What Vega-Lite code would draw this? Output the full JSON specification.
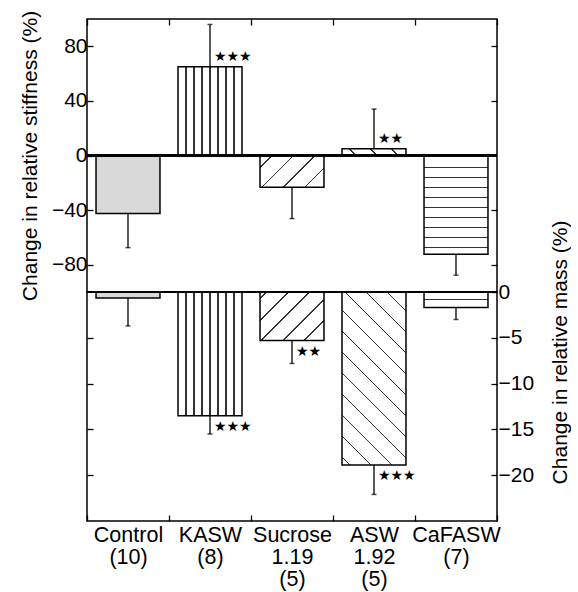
{
  "$schema": "https://vega.github.io/schema/vega-lite/v6.json",
  "background": "white",
  "padding": {"left": 18, "top": 9, "right": 0, "bottom": 0},
  "spacing": 0,
  "bounds": "flush",
  "config": {
    "view": {"stroke": "black", "strokeWidth": 1.5},
    "font": "Liberation Sans",
    "axis": {
      "labelFont": "Liberation Sans", "titleFont": "Liberation Sans",
      "labelColor": "black", "titleColor": "black", "tickColor": "black",
      "titleFontWeight": "normal", "domain": false, "grid": false,
      "tickWidth": 1.3, "labelFontSize": 21, "titleFontSize": 21
    }
  },
  "data": {"values": [
    {"group": "Control|(10)", "stiffness": -42.5, "stiff_end": -67.5, "stiff_sig": null, "mass": -0.65, "mass_end": -3.7, "mass_sig": null},
    {"group": "KASW|(8)", "stiffness": 65, "stiff_end": 96, "stiff_sig": "★★★", "mass": -13.5, "mass_end": -15.5, "mass_sig": "★★★"},
    {"group": "Sucrose|1.19|(5)", "stiffness": -23.3, "stiff_end": -46.2, "stiff_sig": null, "mass": -5.3, "mass_end": -7.8, "mass_sig": "★★"},
    {"group": "ASW|1.92|(5)", "stiffness": 5, "stiff_end": 34, "stiff_sig": "★★", "mass": -18.9, "mass_end": -22.1, "mass_sig": "★★★"},
    {"group": "CaFASW|(7)", "stiffness": -72.4, "stiff_end": -87.7, "stiff_sig": null, "mass": -1.7, "mass_end": -3.0, "mass_sig": null}
  ]},
  "vconcat": [
    {
      "width": 410, "height": 273,
      "resolve": {"axis": {"y": "independent"}},
      "layer": [
        {
          "mark": {"type": "bar", "width": {"band": 0.78}, "stroke": "black", "strokeWidth": 1.5},
          "encoding": {
            "x": {"field": "group", "type": "nominal", "sort": null,
                  "scale": {"paddingInner": 0, "paddingOuter": 0},
                  "axis": {"orient": "top", "labels": false, "tickBand": "extent", "tickSize": -6, "title": null}},
            "y": {"field": "stiffness", "type": "quantitative", "scale": {"domain": [-100, 100], "nice": false},
                  "axis": {"orient": "left", "values": [80, 40, 0, -40, -80], "tickSize": -6, "labelPadding": 6,
                           "title": "Change in relative stiffness (%)", "titlePadding": 11}},
            "fill": {
              "condition": [
                {"test": "datum.group === 'KASW|(8)'", "value": {"gradient": "linear", "x1": 0, "y1": 0, "x2": 1, "y2": 0, "stops": [
                  {"offset": 0.1148, "color": "white"}, {"offset": 0.1148, "color": "#333"}, {"offset": 0.1352, "color": "#333"}, {"offset": 0.1352, "color": "white"},
                  {"offset": 0.2398, "color": "white"}, {"offset": 0.2398, "color": "#333"}, {"offset": 0.2602, "color": "#333"}, {"offset": 0.2602, "color": "white"},
                  {"offset": 0.3648, "color": "white"}, {"offset": 0.3648, "color": "#333"}, {"offset": 0.3852, "color": "#333"}, {"offset": 0.3852, "color": "white"},
                  {"offset": 0.4898, "color": "white"}, {"offset": 0.4898, "color": "#333"}, {"offset": 0.5102, "color": "#333"}, {"offset": 0.5102, "color": "white"},
                  {"offset": 0.6148, "color": "white"}, {"offset": 0.6148, "color": "#333"}, {"offset": 0.6352, "color": "#333"}, {"offset": 0.6352, "color": "white"},
                  {"offset": 0.7398, "color": "white"}, {"offset": 0.7398, "color": "#333"}, {"offset": 0.7602, "color": "#333"}, {"offset": 0.7602, "color": "white"},
                  {"offset": 0.8648, "color": "white"}, {"offset": 0.8648, "color": "#333"}, {"offset": 0.8852, "color": "#333"}, {"offset": 0.8852, "color": "white"}
                ]}},
                {"test": "datum.group === 'Sucrose|1.19|(5)'", "value": {"gradient": "linear", "x1": 0, "y1": 0, "x2": 1.2005, "y2": 0.5965, "stops": [
                  {"offset": 0.1157, "color": "white"}, {"offset": 0.1157, "color": "#333"}, {"offset": 0.1349, "color": "#333"}, {"offset": 0.1349, "color": "white"},
                  {"offset": 0.3401, "color": "white"}, {"offset": 0.3401, "color": "#333"}, {"offset": 0.3593, "color": "#333"}, {"offset": 0.3593, "color": "white"},
                  {"offset": 0.5645, "color": "white"}, {"offset": 0.5645, "color": "#333"}, {"offset": 0.5837, "color": "#333"}, {"offset": 0.5837, "color": "white"},
                  {"offset": 0.7889, "color": "white"}, {"offset": 0.7889, "color": "#333"}, {"offset": 0.8081, "color": "#333"}, {"offset": 0.8081, "color": "white"}
                ]}},
                {"test": "datum.group === 'ASW|1.92|(5)'", "value": {"gradient": "linear", "x1": 0, "y1": 1, "x2": 1.0939, "y2": 0.8838, "stops": [
                  {"offset": 0.1847, "color": "white"}, {"offset": 0.1847, "color": "#333"}, {"offset": 0.2107, "color": "#333"}, {"offset": 0.2107, "color": "white"},
                  {"offset": 0.4814, "color": "white"}, {"offset": 0.4814, "color": "#333"}, {"offset": 0.5074, "color": "#333"}, {"offset": 0.5074, "color": "white"},
                  {"offset": 0.7780, "color": "white"}, {"offset": 0.7780, "color": "#333"}, {"offset": 0.8040, "color": "#333"}, {"offset": 0.8040, "color": "white"}
                ]}},
                {"test": "datum.group === 'CaFASW|(7)'", "value": {"gradient": "linear", "x1": 0, "y1": 0, "x2": 0, "y2": 1, "stops": [
                  {"offset": 0.1149, "color": "white"}, {"offset": 0.1149, "color": "#333"}, {"offset": 0.1281, "color": "#333"}, {"offset": 0.1281, "color": "white"},
                  {"offset": 0.2161, "color": "white"}, {"offset": 0.2161, "color": "#333"}, {"offset": 0.2293, "color": "#333"}, {"offset": 0.2293, "color": "white"},
                  {"offset": 0.3173, "color": "white"}, {"offset": 0.3173, "color": "#333"}, {"offset": 0.3305, "color": "#333"}, {"offset": 0.3305, "color": "white"},
                  {"offset": 0.4185, "color": "white"}, {"offset": 0.4185, "color": "#333"}, {"offset": 0.4317, "color": "#333"}, {"offset": 0.4317, "color": "white"},
                  {"offset": 0.5197, "color": "white"}, {"offset": 0.5197, "color": "#333"}, {"offset": 0.5329, "color": "#333"}, {"offset": 0.5329, "color": "white"},
                  {"offset": 0.6209, "color": "white"}, {"offset": 0.6209, "color": "#333"}, {"offset": 0.6341, "color": "#333"}, {"offset": 0.6341, "color": "white"},
                  {"offset": 0.7221, "color": "white"}, {"offset": 0.7221, "color": "#333"}, {"offset": 0.7353, "color": "#333"}, {"offset": 0.7353, "color": "white"},
                  {"offset": 0.8234, "color": "white"}, {"offset": 0.8234, "color": "#333"}, {"offset": 0.8366, "color": "#333"}, {"offset": 0.8366, "color": "white"},
                  {"offset": 0.9246, "color": "white"}, {"offset": 0.9246, "color": "#333"}, {"offset": 0.9378, "color": "#333"}, {"offset": 0.9378, "color": "white"}
                ]}}
              ],
              "value": "#d9d9d9"
            }
          }
        },
        {
          "mark": {"type": "rule", "strokeWidth": 2, "color": "black"},
          "encoding": {"y": {"datum": 0, "type": "quantitative", "axis": null}}
        },
        {
          "mark": {"type": "rule", "strokeWidth": 1.3, "color": "black"},
          "encoding": {
            "x": {"field": "group", "type": "nominal", "sort": null},
            "y": {"field": "stiffness", "type": "quantitative",
                  "axis": {"orient": "right", "values": [80, 40, -40, -80], "labels": false, "tickSize": -6, "title": null}},
            "y2": {"field": "stiff_end"}
          }
        },
        {
          "mark": {"type": "tick", "orient": "horizontal", "size": 5, "thickness": 1.5, "color": "black"},
          "encoding": {
            "x": {"field": "group", "type": "nominal", "sort": null},
            "y": {"field": "stiff_end", "type": "quantitative", "axis": null}
          }
        },
        {
          "transform": [{"filter": "datum.stiff_sig != null"}],
          "mark": {"type": "text", "align": "left", "baseline": "middle", "dx": 4, "dy": -10, "font": "DejaVu Sans", "fontSize": 14, "color": "black"},
          "encoding": {
            "x": {"field": "group", "type": "nominal", "sort": null},
            "y": {"field": "stiffness", "type": "quantitative", "axis": null},
            "text": {"field": "stiff_sig"}
          }
        }
      ]
    },
    {
      "width": 410, "height": 229,
      "resolve": {"axis": {"y": "independent"}},
      "layer": [
        {
          "mark": {"type": "bar", "width": {"band": 0.78}, "stroke": "black", "strokeWidth": 1.5},
          "encoding": {
            "x": {"field": "group", "type": "nominal", "sort": null,
                  "scale": {"paddingInner": 0, "paddingOuter": 0},
                  "axis": {"orient": "bottom", "labelExpr": "split(datum.label, '|')", "labelAngle": 0, "labelOverlap": false,
                           "tickBand": "extent", "tickSize": -6, "labelPadding": 9, "labelFontSize": 21.5, "labelLineHeight": 22, "title": null}},
            "y": {"field": "mass", "type": "quantitative", "scale": {"domain": [-25, 0], "nice": false},
                  "axis": {"orient": "right", "values": [0, -5, -10, -15, -20], "tickSize": -6, "labelPadding": 7,
                           "title": "Change in relative mass (%)", "titleAngle": 270, "titleX": 63, "titleY": 60,
                           "titleAlign": "center", "titleBaseline": "middle"}},
            "fill": {
              "condition": [
                {"test": "datum.group === 'KASW|(8)'", "value": {"gradient": "linear", "x1": 0, "y1": 0, "x2": 1, "y2": 0, "stops": [
                  {"offset": 0.1148, "color": "white"}, {"offset": 0.1148, "color": "#333"}, {"offset": 0.1352, "color": "#333"}, {"offset": 0.1352, "color": "white"},
                  {"offset": 0.2398, "color": "white"}, {"offset": 0.2398, "color": "#333"}, {"offset": 0.2602, "color": "#333"}, {"offset": 0.2602, "color": "white"},
                  {"offset": 0.3648, "color": "white"}, {"offset": 0.3648, "color": "#333"}, {"offset": 0.3852, "color": "#333"}, {"offset": 0.3852, "color": "white"},
                  {"offset": 0.4898, "color": "white"}, {"offset": 0.4898, "color": "#333"}, {"offset": 0.5102, "color": "#333"}, {"offset": 0.5102, "color": "white"},
                  {"offset": 0.6148, "color": "white"}, {"offset": 0.6148, "color": "#333"}, {"offset": 0.6352, "color": "#333"}, {"offset": 0.6352, "color": "white"},
                  {"offset": 0.7398, "color": "white"}, {"offset": 0.7398, "color": "#333"}, {"offset": 0.7602, "color": "#333"}, {"offset": 0.7602, "color": "white"},
                  {"offset": 0.8648, "color": "white"}, {"offset": 0.8648, "color": "#333"}, {"offset": 0.8852, "color": "#333"}, {"offset": 0.8852, "color": "white"}
                ]}},
                {"test": "datum.group === 'Sucrose|1.19|(5)'", "value": {"gradient": "linear", "x1": 0, "y1": 0, "x2": 1.1166, "y2": 0.8462, "stops": [
                  {"offset": 0.0514, "color": "white"}, {"offset": 0.0514, "color": "#333"}, {"offset": 0.0678, "color": "#333"}, {"offset": 0.0678, "color": "white"},
                  {"offset": 0.2425, "color": "white"}, {"offset": 0.2425, "color": "#333"}, {"offset": 0.2589, "color": "#333"}, {"offset": 0.2589, "color": "white"},
                  {"offset": 0.4336, "color": "white"}, {"offset": 0.4336, "color": "#333"}, {"offset": 0.4500, "color": "#333"}, {"offset": 0.4500, "color": "white"},
                  {"offset": 0.6247, "color": "white"}, {"offset": 0.6247, "color": "#333"}, {"offset": 0.6411, "color": "#333"}, {"offset": 0.6411, "color": "white"},
                  {"offset": 0.8158, "color": "white"}, {"offset": 0.8158, "color": "#333"}, {"offset": 0.8322, "color": "#333"}, {"offset": 0.8322, "color": "white"}
                ]}},
                {"test": "datum.group === 'ASW|1.92|(5)'", "value": {"gradient": "linear", "x1": 0, "y1": 1, "x2": 0.4455, "y2": -0.2050, "stops": [
                  {"offset": 0.0303, "color": "white"}, {"offset": 0.0303, "color": "#333"}, {"offset": 0.0381, "color": "#333"}, {"offset": 0.0381, "color": "white"},
                  {"offset": 0.1188, "color": "white"}, {"offset": 0.1188, "color": "#333"}, {"offset": 0.1266, "color": "#333"}, {"offset": 0.1266, "color": "white"},
                  {"offset": 0.2074, "color": "white"}, {"offset": 0.2074, "color": "#333"}, {"offset": 0.2152, "color": "#333"}, {"offset": 0.2152, "color": "white"},
                  {"offset": 0.2960, "color": "white"}, {"offset": 0.2960, "color": "#333"}, {"offset": 0.3038, "color": "#333"}, {"offset": 0.3038, "color": "white"},
                  {"offset": 0.3845, "color": "white"}, {"offset": 0.3845, "color": "#333"}, {"offset": 0.3923, "color": "#333"}, {"offset": 0.3923, "color": "white"},
                  {"offset": 0.4731, "color": "white"}, {"offset": 0.4731, "color": "#333"}, {"offset": 0.4809, "color": "#333"}, {"offset": 0.4809, "color": "white"},
                  {"offset": 0.5617, "color": "white"}, {"offset": 0.5617, "color": "#333"}, {"offset": 0.5695, "color": "#333"}, {"offset": 0.5695, "color": "white"},
                  {"offset": 0.6502, "color": "white"}, {"offset": 0.6502, "color": "#333"}, {"offset": 0.6580, "color": "#333"}, {"offset": 0.6580, "color": "white"},
                  {"offset": 0.7388, "color": "white"}, {"offset": 0.7388, "color": "#333"}, {"offset": 0.7466, "color": "#333"}, {"offset": 0.7466, "color": "white"},
                  {"offset": 0.8274, "color": "white"}, {"offset": 0.8274, "color": "#333"}, {"offset": 0.8352, "color": "#333"}, {"offset": 0.8352, "color": "white"},
                  {"offset": 0.9160, "color": "white"}, {"offset": 0.9160, "color": "#333"}, {"offset": 0.9238, "color": "#333"}, {"offset": 0.9238, "color": "white"}
                ]}},
                {"test": "datum.group === 'CaFASW|(7)'", "value": {"gradient": "linear", "x1": 0, "y1": 0, "x2": 0, "y2": 1, "stops": [
                  {"offset": 0.458, "color": "white"}, {"offset": 0.458, "color": "#333"}, {"offset": 0.542, "color": "#333"}, {"offset": 0.542, "color": "white"}
                ]}}
              ],
              "value": "#d9d9d9"
            }
          }
        },
        {
          "mark": {"type": "rule", "strokeWidth": 2, "color": "black"},
          "encoding": {"y": {"datum": 0, "type": "quantitative", "axis": null}}
        },
        {
          "mark": {"type": "rule", "strokeWidth": 1.3, "color": "black"},
          "encoding": {
            "x": {"field": "group", "type": "nominal", "sort": null},
            "y": {"field": "mass", "type": "quantitative",
                  "axis": {"orient": "left", "values": [-5, -10, -15, -20], "labels": false, "tickSize": -6, "title": null}},
            "y2": {"field": "mass_end"}
          }
        },
        {
          "mark": {"type": "tick", "orient": "horizontal", "size": 5, "thickness": 1.5, "color": "black"},
          "encoding": {
            "x": {"field": "group", "type": "nominal", "sort": null},
            "y": {"field": "mass_end", "type": "quantitative", "axis": null}
          }
        },
        {
          "transform": [{"filter": "datum.mass_sig != null"}],
          "mark": {"type": "text", "align": "left", "baseline": "middle", "dx": 4, "dy": 11, "font": "DejaVu Sans", "fontSize": 14, "color": "black"},
          "encoding": {
            "x": {"field": "group", "type": "nominal", "sort": null},
            "y": {"field": "mass", "type": "quantitative", "axis": null},
            "text": {"field": "mass_sig"}
          }
        }
      ]
    }
  ]
}
